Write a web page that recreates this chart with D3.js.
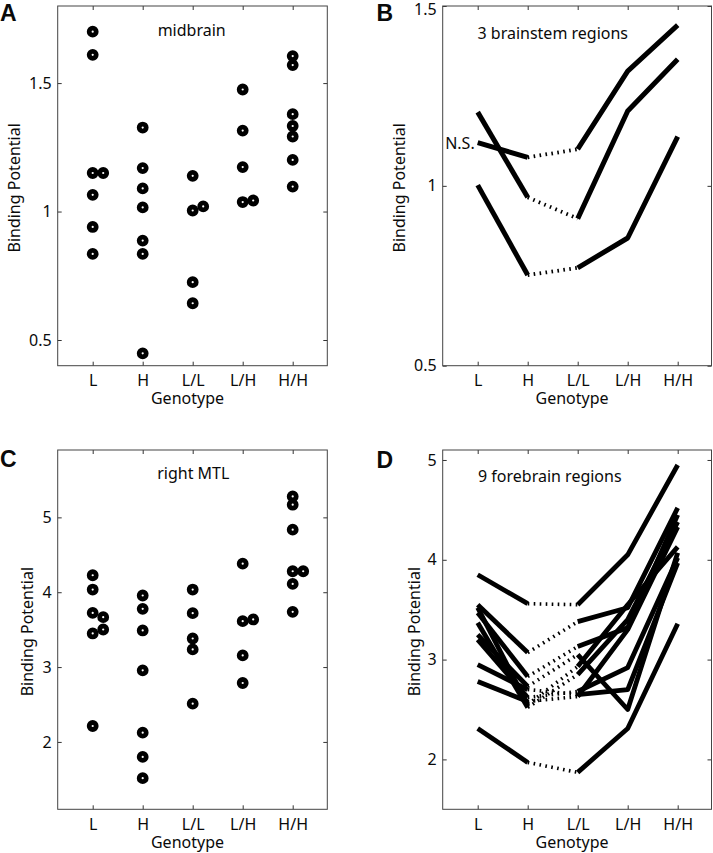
<!DOCTYPE html>
<html><head><meta charset="utf-8">
<script src="https://cdn.jsdelivr.net/npm/d3@7"></script>
<style>
body{margin:0;background:#fff}
svg{display:block}
text{font-family:"Noto Sans",sans-serif;fill:#0a0a0a}
</style>
</head><body>
<svg id="chart" width="713" height="853"></svg>
<script>
// ---------- data ----------
const categories = ["L", "H", "L/L", "L/H", "H/H"];

// Panel A: midbrain binding potential per genotype
const midbrainValues = [
  [1.70, 1.61, 1.15, 1.15, 1.065, 0.94, 0.835],
  [1.327, 1.169, 1.09, 1.016, 0.887, 0.835, 0.448],
  [1.139, 1.004, 1.02, 0.725, 0.643],
  [1.475, 1.315, 1.173, 1.037, 1.043],
  [1.605, 1.57, 1.379, 1.333, 1.292, 1.201, 1.097]
];
const midbrainDodge = [
  [0, 0, 0, 1, 0, 0, 0],
  [0, 0, 0, 0, 0, 0, 0],
  [0, 0, 1, 0, 0],
  [0, 0, 0, 0, 1],
  [0, 0, 0, 0, 0, 0, 0]
];

// Panel C: right MTL
const mtlValues = [
  [4.227, 4.036, 3.724, 3.667, 3.502, 3.449, 2.213],
  [3.956, 3.778, 3.489, 2.956, 2.124, 1.80, 1.516],
  [4.036, 3.72, 3.382, 3.236, 2.511],
  [4.382, 3.613, 3.636, 3.156, 2.787],
  [5.28, 5.169, 4.836, 4.28, 4.28, 4.111, 3.738]
];
const mtlDodge = [
  [0, 0, 0, 1, 1, 0, 0],
  [0, 0, 0, 0, 0, 0, 0],
  [0, 0, 0, 0, 0],
  [0, 0, 1, 0, 0],
  [0, 0, 0, 0, 1, 0, 0]
];

// Panel B: 3 brainstem regions (L, H, L/L, L/H, H/H)
const brainstemLines = [
  [1.12, 1.079, 1.102, 1.319, 1.447],
  [1.205, 0.968, 0.909, 1.208, 1.352],
  [1.002, 0.752, 0.772, 0.855, 1.137]
];

// Panel D: forebrain regions
const forebrainLines = [
  [3.85, 3.56, 3.55, 4.05, 4.95],
  [3.55, 3.07, 3.38, 3.52, 4.52],
  [3.52, 2.55, 2.93, 3.55, 4.13],
  [3.47, 2.83, 3.13, 3.32, 4.45],
  [3.37, 2.52, 2.85, 3.40, 4.38],
  [3.25, 2.73, 3.05, 2.50, 4.07],
  [3.20, 2.62, 2.68, 2.92, 4.02],
  [2.95, 2.70, 2.65, 2.70, 3.97],
  [2.78, 2.58, 2.63, 3.30, 4.33],
  [2.31, 1.97, 1.87, 2.31, 3.36]
];

const yTicksA = [0.5, 1, 1.5], yTickLabelsA = ["0.5", "1", "1.5"];
const yTicksB = [0.5, 1, 1.5], yTickLabelsB = ["0.5", "1", "1.5"];
const yTicksC = [2, 3, 4, 5], yTickLabelsC = ["2", "3", "4", "5"];
const yTicksD = [2, 3, 4, 5], yTickLabelsD = ["2", "3", "4", "5"];

// ---------- drawing ----------
const svg = d3.select("#chart");
const FS = 16;

function makePanel(o) {
  const g = svg.append("g");
  const x = d3.scaleLinear().domain([0.3, 5.7]).range([o.left, o.left + 270]);
  const y = d3.scaleLinear().domain(o.ydom).range([o.bottom, o.top]);
  const catIdx = categories.map((c, i) => i + 1);

  // left axis
  const ax = g.append("g").attr("transform", `translate(${o.left},0)`)
    .call(d3.axisLeft(y).tickValues(o.yticks).tickFormat((d, i) => o.ylabels[i])
      .tickSizeInner(-4).tickSizeOuter(0).tickPadding(6));
  ax.select(".domain").remove();
  ax.selectAll("text").attr("font-size", FS).attr("font-family", null)
    .attr("dy", d => (y(d) - o.top < 8 ? "0.55em" : "0.32em"));
  ax.selectAll("line").attr("stroke", "#333");
  // right axis ticks
  const ar = g.append("g").attr("transform", `translate(${o.right},0)`)
    .call(d3.axisRight(y).tickValues(o.yticks).tickFormat("").tickSizeInner(-4).tickSizeOuter(0));
  ar.select(".domain").remove();
  ar.selectAll("line").attr("stroke", "#333");
  // bottom axis
  const ab = g.append("g").attr("transform", `translate(0,${o.bottom})`)
    .call(d3.axisBottom(x).tickValues(catIdx).tickFormat(d => categories[d - 1])
      .tickSizeInner(-4).tickSizeOuter(0));
  ab.select(".domain").remove();
  ab.selectAll("text").attr("font-size", FS).attr("font-family", null).attr("y", 20.5).attr("dy", 0);
  ab.selectAll("line").attr("stroke", "#333");
  // top axis ticks
  const at = g.append("g").attr("transform", `translate(0,${o.top})`)
    .call(d3.axisTop(x).tickValues(catIdx).tickFormat("").tickSizeInner(-4).tickSizeOuter(0));
  at.select(".domain").remove();
  at.selectAll("line").attr("stroke", "#333");

  // box
  g.append("rect").attr("x", o.left).attr("y", o.top)
    .attr("width", o.right - o.left).attr("height", o.bottom - o.top)
    .attr("fill", "none").attr("stroke", "#444").attr("stroke-width", 1);

  // axis titles
  g.append("text").attr("x", (o.left + o.right) / 2 - 5).attr("y", o.bottom + 38.5)
    .attr("text-anchor", "middle").attr("font-size", FS).text("Genotype");
  g.append("text").attr("transform", `translate(${o.ylabX},${(o.top + o.bottom) / 2 + 2}) rotate(-90)`)
    .attr("text-anchor", "middle").attr("font-size", FS).text("Binding Potential");
  // panel letter
  svg.append("text").attr("x", o.letterX).attr("y", o.letterY)
    .style("font-family", "'Liberation Sans', Arial, sans-serif").attr("font-weight", "bold")
    .attr("font-size", 23).text(o.letter);
  // title
  g.append("text").attr("x", o.titleX).attr("y", o.titleY).attr("text-anchor", o.titleAnchor)
    .attr("font-size", FS).text(o.title);

  return {g, x, y};
}

function drawDots(p, values, dodge) {
  const pts = [];
  values.forEach((arr, ci) => arr.forEach((v, k) => pts.push({c: ci + 1, v, d: dodge[ci][k]})));
  p.g.append("g").selectAll("circle").data(pts).join("circle")
    .attr("cx", d => p.x(d.c + d.d * 0.21))
    .attr("cy", d => p.y(d.v))
    .attr("r", 3.5)
    .attr("fill", "#fff").attr("stroke", "#000").attr("stroke-width", 4.8);
}

function drawLines(p, lines, sw) {
  const line = d3.line().x(d => p.x(d.c)).y(d => p.y(d.v));
  const lg = p.g.append("g").attr("fill", "none").attr("stroke", "#000");
  lines.forEach(vals => {
    const pts = vals.map((v, i) => ({c: i + 1, v}));
    lg.append("path").attr("d", line(pts.slice(0, 2))).attr("stroke-width", sw);
    lg.append("path").attr("d", line(pts.slice(1, 3))).attr("stroke-width", sw - 1.2)
      .attr("stroke-dasharray", "1.6,4.4");
    lg.append("path").attr("d", line(pts.slice(2, 5))).attr("stroke-width", sw)
      .attr("stroke-linejoin", "round");
  });
}

const pA = makePanel({left: 57.7, right: 327.3, top: 6, bottom: 365.7, ydom: [0.4, 1.8],
  yticks: yTicksA, ylabels: yTickLabelsA, ylabX: 20, letter: "A", letterX: 0, letterY: 20.8,
  title: "midbrain", titleX: 191.7, titleY: 36, titleAnchor: "middle"});
drawDots(pA, midbrainValues, midbrainDodge);

const pB = makePanel({left: 442.7, right: 711.5, top: 6, bottom: 365.7, ydom: [0.5, 1.5],
  yticks: yTicksB, ylabels: yTickLabelsB, ylabX: 405, letter: "B", letterX: 376.5, letterY: 20.8,
  title: "3 brainstem regions", titleX: 477.5, titleY: 39, titleAnchor: "start"});
drawLines(pB, brainstemLines, 5);
pB.g.append("text").attr("x", pB.x(1) - 3).attr("y", pB.y(brainstemLines[0][0]) + 6)
  .attr("text-anchor", "end").attr("font-size", FS).text("N.S.");

const pC = makePanel({left: 57.7, right: 327.3, top: 450, bottom: 809.3, ydom: [1.1, 5.9],
  yticks: yTicksC, ylabels: yTickLabelsC, ylabX: 33, letter: "C", letterX: 0, letterY: 467,
  title: "right MTL", titleX: 193.3, titleY: 479, titleAnchor: "middle"});
drawDots(pC, mtlValues, mtlDodge);

const pD = makePanel({left: 442.7, right: 711.5, top: 450, bottom: 809.3, ydom: [1.5, 5.1],
  yticks: yTicksD, ylabels: yTickLabelsD, ylabX: 420, letter: "D", letterX: 376.5, letterY: 467.5,
  title: "9 forebrain regions", titleX: 478, titleY: 482, titleAnchor: "start"});
drawLines(pD, forebrainLines, 4.8);
</script>
</body></html>
